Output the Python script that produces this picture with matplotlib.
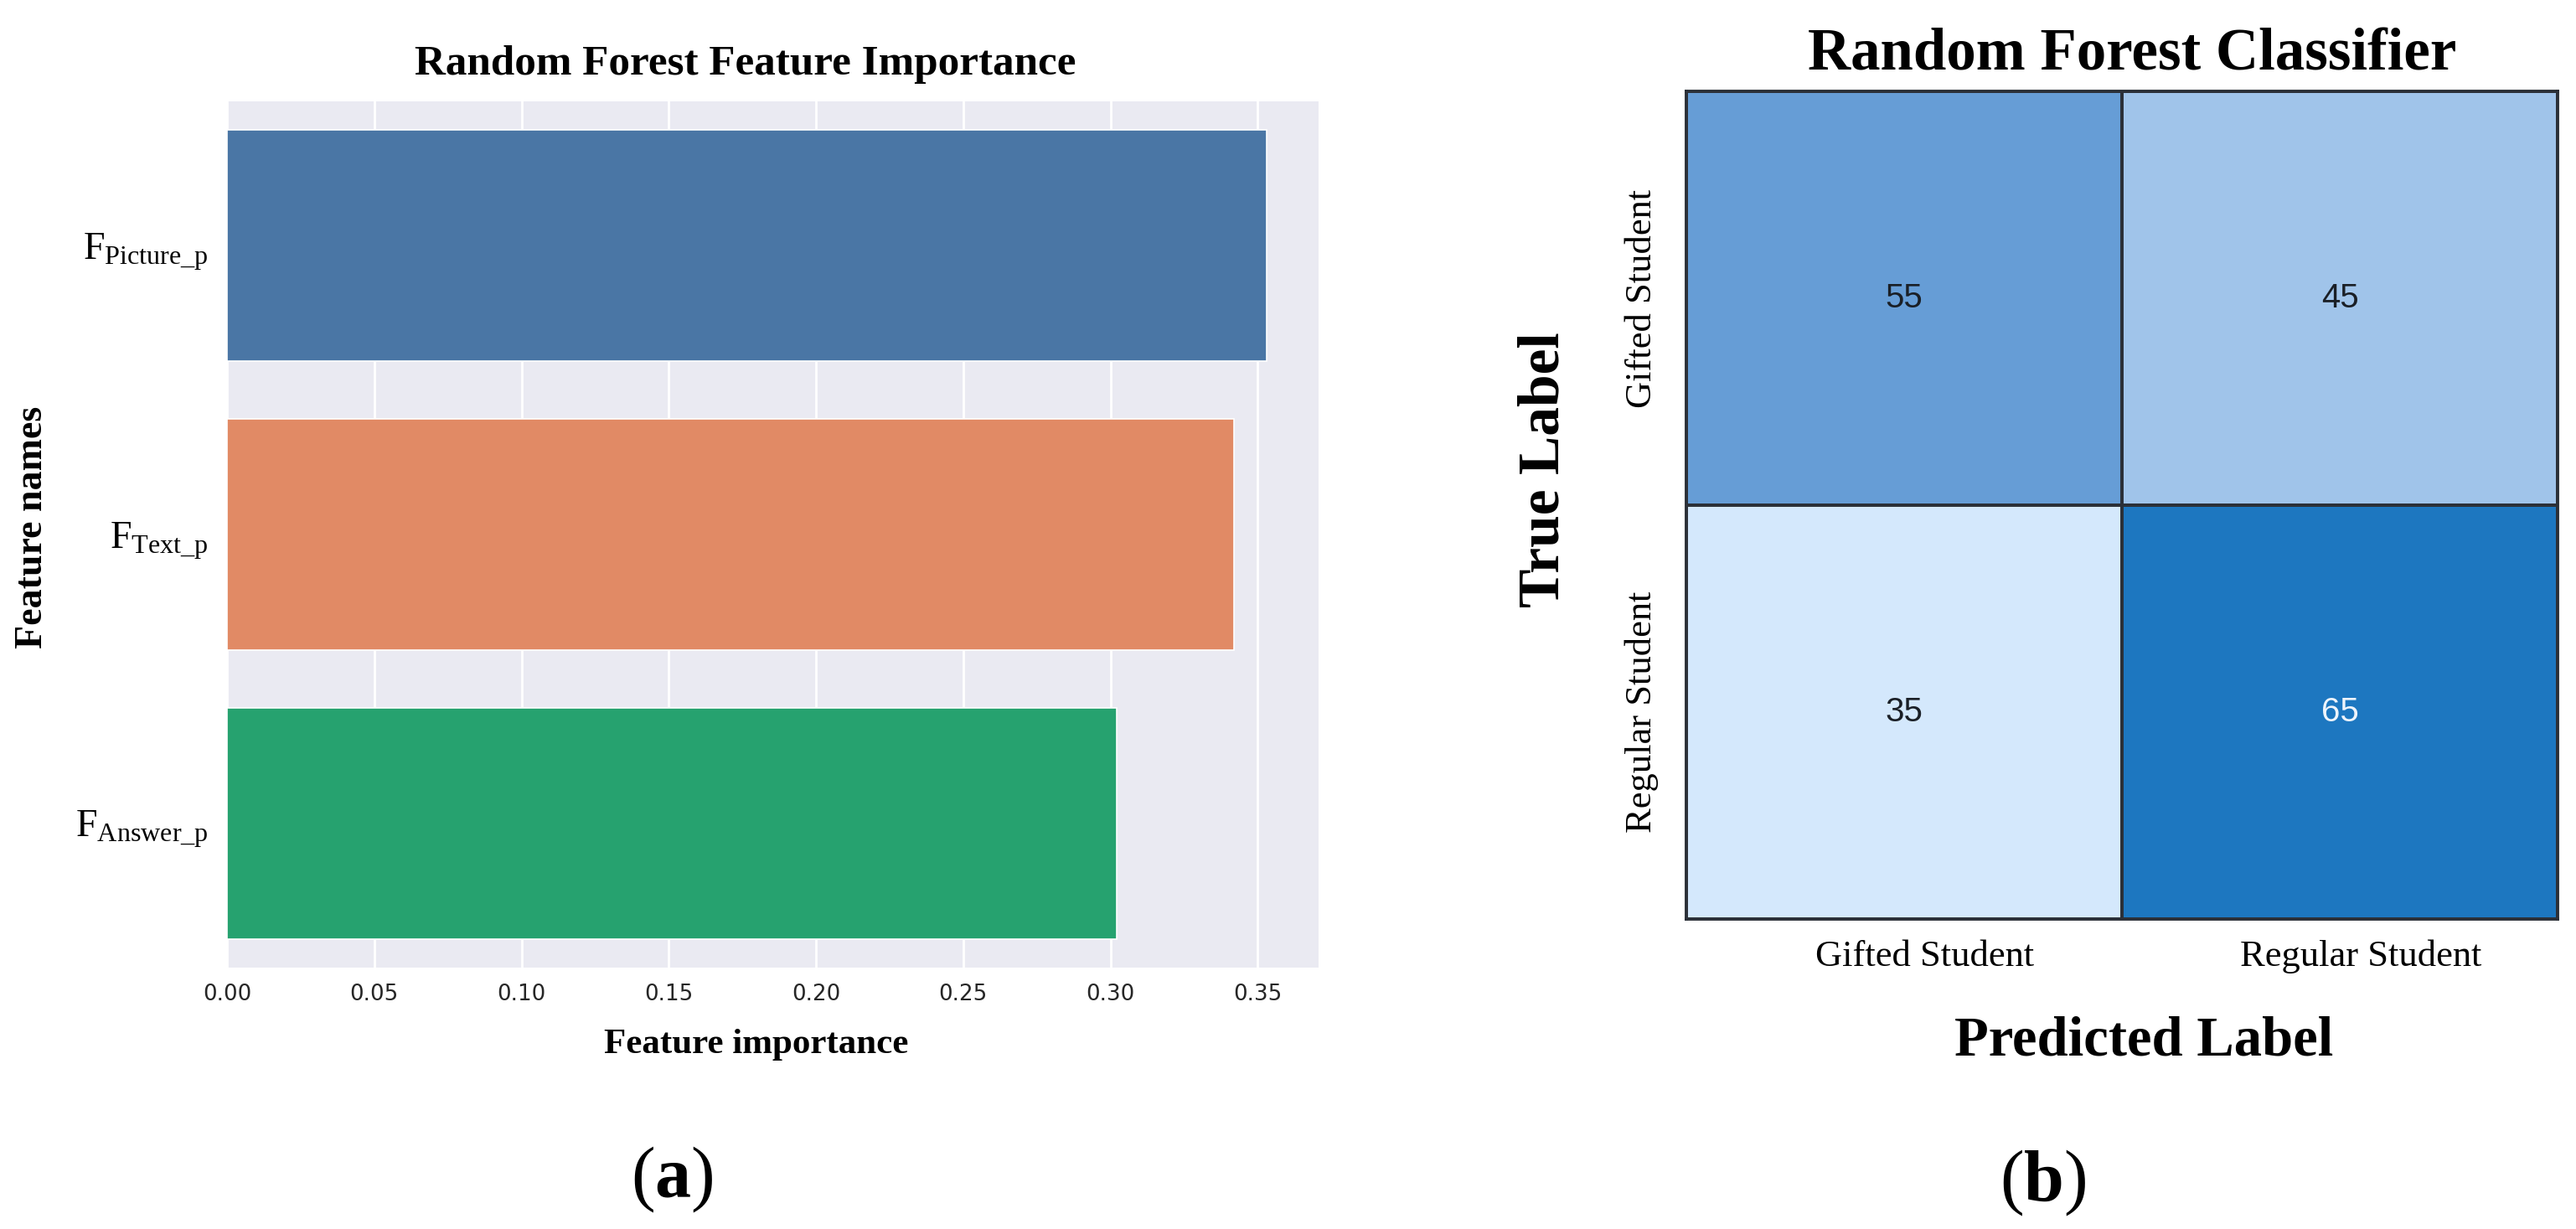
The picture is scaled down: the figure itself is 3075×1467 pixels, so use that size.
import matplotlib
matplotlib.use("Agg")
import matplotlib.pyplot as plt
from matplotlib.colors import LinearSegmentedColormap
from matplotlib.transforms import ScaledTranslation
import numpy as np

# ---------------- data ----------------
features = ["Picture\\_p", "Text\\_p", "Answer\\_p"]
importance = [0.353, 0.342, 0.302]
bar_colors = ["#4a76a5", "#e18a65", "#26a26f"]
x_ticks = [0.00, 0.05, 0.10, 0.15, 0.20, 0.25, 0.30, 0.35]

class_labels = ["Gifted Student", "Regular Student"]
cm_values = [[55, 45],
             [35, 65]]
cm_colors = ["#d4e8fc", "#a0c4ea", "#669dd6", "#1d77c0"]

# ---------------- style ----------------
plt.rcParams["mathtext.fontset"] = "custom"
plt.rcParams["mathtext.rm"] = "Liberation Serif"
plt.rcParams["mathtext.it"] = "Liberation Serif:italic"
plt.rcParams["mathtext.bf"] = "Liberation Serif:bold"
SERIF = "Liberation Serif"

W, H, DPI = 3075, 1467, 200
fig = plt.figure(figsize=(W / DPI, H / DPI), dpi=DPI)

# ---------------- panel (a) ----------------
ax1 = fig.add_axes([271 / W, 1 - 1155 / H, 1303 / W, 1034 / H])
ax1.set_facecolor("#EAEAF2")
y = np.arange(len(features))
ax1.barh(y, importance, height=0.8, color=bar_colors, edgecolor="white",
         linewidth=0.6, zorder=2)
ax1.set_ylim(len(features) - 0.5, -0.5)
ax1.set_xlim(0, max(importance) * 1.05)
ax1.set_xticks(x_ticks)
ax1.set_xticklabels([f"{t:.2f}" for t in x_ticks], fontsize=9.4,
                    color="#262626", family="DejaVu Sans")
ax1.set_yticks(y)
ax1.set_yticklabels([r"$\mathrm{F_{" + f + "}}$" for f in features],
                    fontsize=16.5)
ax1.tick_params(axis="both", length=0)
ax1.tick_params(axis="x", pad=7)
ax1.tick_params(axis="y", pad=8)
ax1.grid(axis="x", color="white", linewidth=1.0, zorder=1)
ax1.set_axisbelow(True)
for s in ax1.spines.values():
    s.set_visible(False)

ax1.set_xlabel("Feature importance", family=SERIF, fontweight="bold",
               fontsize=15.5, va="baseline")
ax1.xaxis.set_label_coords(0.485, -0.099)
ax1.set_ylabel("Feature names", family=SERIF, fontweight="bold",
               fontsize=16.5, va="center")
ax1.yaxis.set_label_coords(-0.178, 0.508)

fig.text(890 / W, 1 - 89 / H, "Random Forest Feature Importance",
         family=SERIF, fontweight="bold", fontsize=18.4,
         ha="center", va="baseline")
fig.text(802 / W, 1 - 1408 / H, r"($\mathbf{a}$)", family=SERIF,
         fontsize=31, ha="center", va="center")

# ---------------- panel (b) ----------------
ax2 = fig.add_axes([2013 / W, 1 - 1097 / H, 1040 / W, 988 / H])
cmap = LinearSegmentedColormap.from_list(
    "cm_blues", list(zip([0, 1 / 3, 2 / 3, 1], cm_colors)))
cm = np.array(cm_values)
ax2.pcolormesh(cm, cmap=cmap, vmin=35, vmax=65,
               edgecolors="#2b3038", linewidth=1.4)
ax2.set_xlim(0, 2)
ax2.set_ylim(2, 0)
for i in range(2):
    for j in range(2):
        v = cm[i, j]
        ax2.text(j + 0.5, i + 0.5, str(v), ha="center", va="center",
                 family="Liberation Sans", fontsize=14.5,
                 color="#eef4fb" if v >= 60 else "#1a1f26")
for s in ax2.spines.values():
    s.set_visible(True)
    s.set_color("#2b3038")
    s.set_linewidth(1.4)
ax2.set_xticks([0.5, 1.5])
ax2.set_xticklabels(class_labels, family=SERIF, fontsize=16)
ax2.set_yticks([0.5, 1.5])
ax2.set_yticklabels(class_labels, family=SERIF, fontsize=16,
                    rotation=90, va="center", ha="right")
ax2.tick_params(axis="both", length=0)
ax2.tick_params(axis="x", pad=9)
ax2.tick_params(axis="y", pad=12)
shift = ScaledTranslation(25 / DPI, 0, fig.dpi_scale_trans)
for lab in ax2.get_xticklabels():
    lab.set_transform(lab.get_transform() + shift)

ax2.set_xlabel("Predicted Label", family=SERIF, fontweight="bold",
               fontsize=24, va="baseline")
ax2.xaxis.set_label_coords(0.525, -0.164)
ax2.set_ylabel("True Label", family=SERIF, fontweight="bold",
               fontsize=25, va="center")
ax2.yaxis.set_label_coords(-0.163, 0.5425)

fig.text(2545 / W, 1 - 83 / H, "Random Forest Classifier",
         family=SERIF, fontweight="bold", fontsize=25.5,
         ha="center", va="baseline")
fig.text(2439 / W, 1 - 1412 / H, r"($\mathbf{b}$)", family=SERIF,
         fontsize=31, ha="center", va="center")

fig.savefig("out.png", dpi=DPI, facecolor="white")
